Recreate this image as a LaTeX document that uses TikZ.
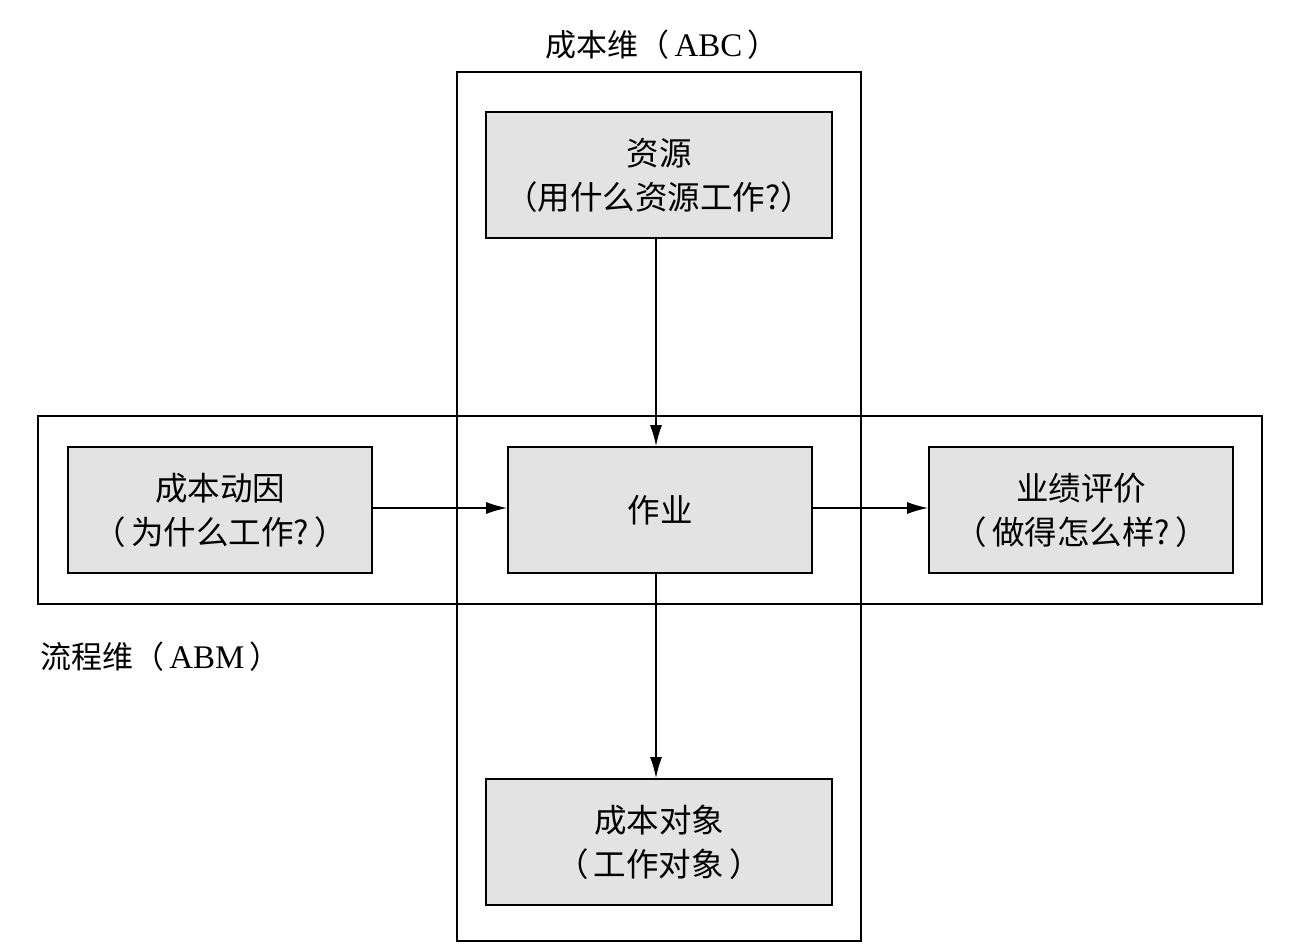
\documentclass[tikz,border=0pt]{standalone}
\usepackage{fontspec}
\setmainfont{Liberation Serif}
\newfontfamily\cjk{Noto Sans CJK SC}
\usetikzlibrary{arrows.meta}
\definecolor{boxgray}{HTML}{E3E3E3}
\begin{document}
\begin{tikzpicture}[x=1pt,y=-1pt,
  box/.style={draw, line width=1.8pt, fill=boxgray, align=center, inner sep=0pt,
    font=\cjk\fontsize{32.5}{44}\selectfont, minimum height=126pt},
  frame/.style={draw, line width=1.6pt, inner sep=0pt},
  lbl/.style={font=\cjk\fontsize{31}{36}\selectfont, inner sep=0pt},
  arr/.style={-{Latex[length=21pt,width=12pt]}, line width=1.4pt}]
\useasboundingbox (0,0) rectangle (1291,947);
% frames
\node[frame, minimum width=404pt, minimum height=869pt] (vframe) at (659,506.5) {};
\node[frame, minimum width=1224pt, minimum height=188pt] (hframe) at (650,510) {};
% labels
\node[lbl] (tabc) at (662,45) {成本维（\,{\fontspec{Liberation Serif}\fontsize{33}{36}\selectfont ABC}\,）};
\node[lbl, anchor=west] (tabm) at (40,657) {流程维（\,{\fontspec{Liberation Serif}\fontsize{33}{36}\selectfont ABM}\,）};
% boxes
\node[box, minimum width=346pt] (res) at (659,175) {资源\\（用什么资源工作?）};
\node[box, minimum width=304pt] (act) at (660,510) {作业};
\node[box, minimum width=304pt] (drv) at (220,510) {成本动因\\（\,为什么工作?\,）};
\node[box, minimum width=304pt] (perf) at (1081,510) {业绩评价\\（\,做得怎么样?\,）};
\node[box, minimum width=346pt] (obj) at (659,842) {成本对象\\（\,工作对象\,）};
% arrows
\draw[arr] (res.south -| 656,0) -- (act.north -| 656,0);
\draw[arr] (act.south -| 656,0) -- (obj.north -| 656,0);
\draw[arr] (drv.east |- 0,508) -- (act.west |- 0,508);
\draw[arr] (act.east |- 0,508) -- (perf.west |- 0,508);
\end{tikzpicture}
\end{document}
